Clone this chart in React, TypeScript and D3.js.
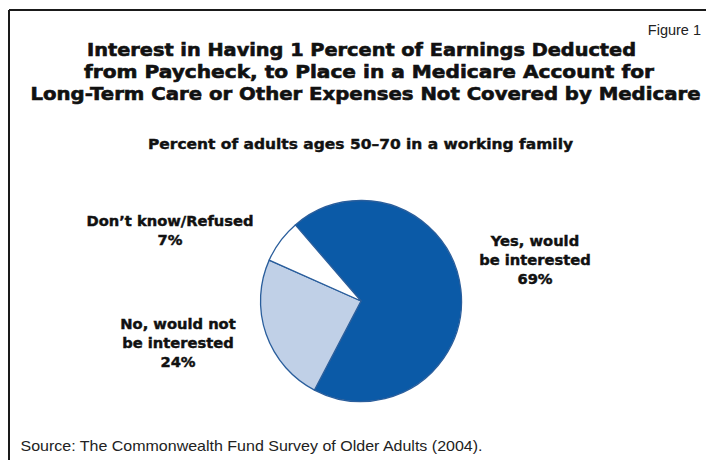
import React from "react";
import * as d3 from "d3";

const categories = ["Yes, would be interested", "No, would not be interested", "Don\u2019t know/Refused"];
const values = [69, 24, 7];
const labelLines = [
  ["Yes, would", "be interested", "69%"],
  ["No, would not", "be interested", "24%"],
  ["Don\u2019t know/Refused", "7%"],
];
const titleLines = [
  "Interest in Having 1 Percent of Earnings Deducted",
  "from Paycheck, to Place in a Medicare Account for",
  "Long-Term Care or Other Expenses Not Covered by Medicare",
];
const subtitle = "Percent of adults ages 50\u201370 in a working family";
const figureLabel = "Figure 1";
const sourceText = "Source: The Commonwealth Fund Survey of Older Adults (2004).";

const W = 706;
const H = 460;
const colors = ["#0b5aa7", "#c0d0e7", "#ffffff"];
const boldFont = "'DejaVu Sans', sans-serif";
const regFont = "'Liberation Sans', Arial, sans-serif";

export default function App() {
  const cx = 361;
  const cy = 301;
  const r = 100.5;
  const start = (-40.8 * Math.PI) / 180;
  const pie = d3.pie<number>().sort(null).startAngle(start).endAngle(start + 2 * Math.PI);
  const arcs = pie(values);
  const arc = d3.arc<d3.PieArcDatum<number>>().innerRadius(0).outerRadius(r);

  const titleX = [87, 84, 30.5];
  const titleW = [549, 570, 670];
  const titleY = [55.5, 77.5, 100];

  const labelPos = [
    { x: 535, y: 246 },
    { x: 178, y: 329 },
    { x: 170, y: 226 },
  ];

  return (
    <svg width={W} height={H} style={{ position: "absolute", left: 0, top: 0, background: "#fff" }}>
      <rect x={0} y={0} width={W} height={H} fill="#fff" />
      <line x1={9} y1={10} x2={W} y2={10} stroke="#1a1a1a" strokeWidth={2} />
      <line x1={9} y1={10} x2={9} y2={H} stroke="#1a1a1a" strokeWidth={2} />

      <text x={701} y={35} textAnchor="end" fontFamily={regFont} fontSize={14.5} fill="#222">
        {figureLabel}
      </text>

      {titleLines.map((t, i) => (
        <text
          key={i}
          x={titleX[i]}
          y={titleY[i]}
          fontFamily={boldFont}
          fontWeight="bold"
          fontSize={17.5}
          textLength={titleW[i]}
          lengthAdjust="spacingAndGlyphs"
          fill="#111"
          stroke="#111"
          strokeWidth={0.6}
        >
          {t}
        </text>
      ))}

      <text
        x={148}
        y={149}
        fontFamily={boldFont}
        fontWeight="bold"
        fontSize={14}
        textLength={425}
        lengthAdjust="spacingAndGlyphs"
        fill="#111"
        stroke="#111"
        strokeWidth={0.4}
      >
        {subtitle}
      </text>

      <g transform={`translate(${cx},${cy})`}>
        {arcs.map((a, i) => (
          <path
            key={categories[i]}
            d={arc(a) || ""}
            fill={colors[i]}
            stroke="#2a5e9c"
            strokeWidth={1.3}
            strokeLinejoin="round"
          />
        ))}
      </g>

      {labelLines.map((lines, i) => (
        <text
          key={i}
          x={labelPos[i].x}
          y={labelPos[i].y}
          textAnchor="middle"
          fontFamily={boldFont}
          fontWeight="bold"
          fontSize={14.7}
          fill="#111"
          stroke="#111"
          strokeWidth={0.45}
        >
          {lines.map((l, j) => (
            <tspan key={j} x={labelPos[i].x} dy={j === 0 ? 0 : 19}>
              {l}
            </tspan>
          ))}
        </text>
      ))}

      <text x={20.5} y={451} fontFamily={regFont} fontSize={14.5} fill="#222" textLength={462} lengthAdjust="spacingAndGlyphs">
        {sourceText}
      </text>
    </svg>
  );
}
